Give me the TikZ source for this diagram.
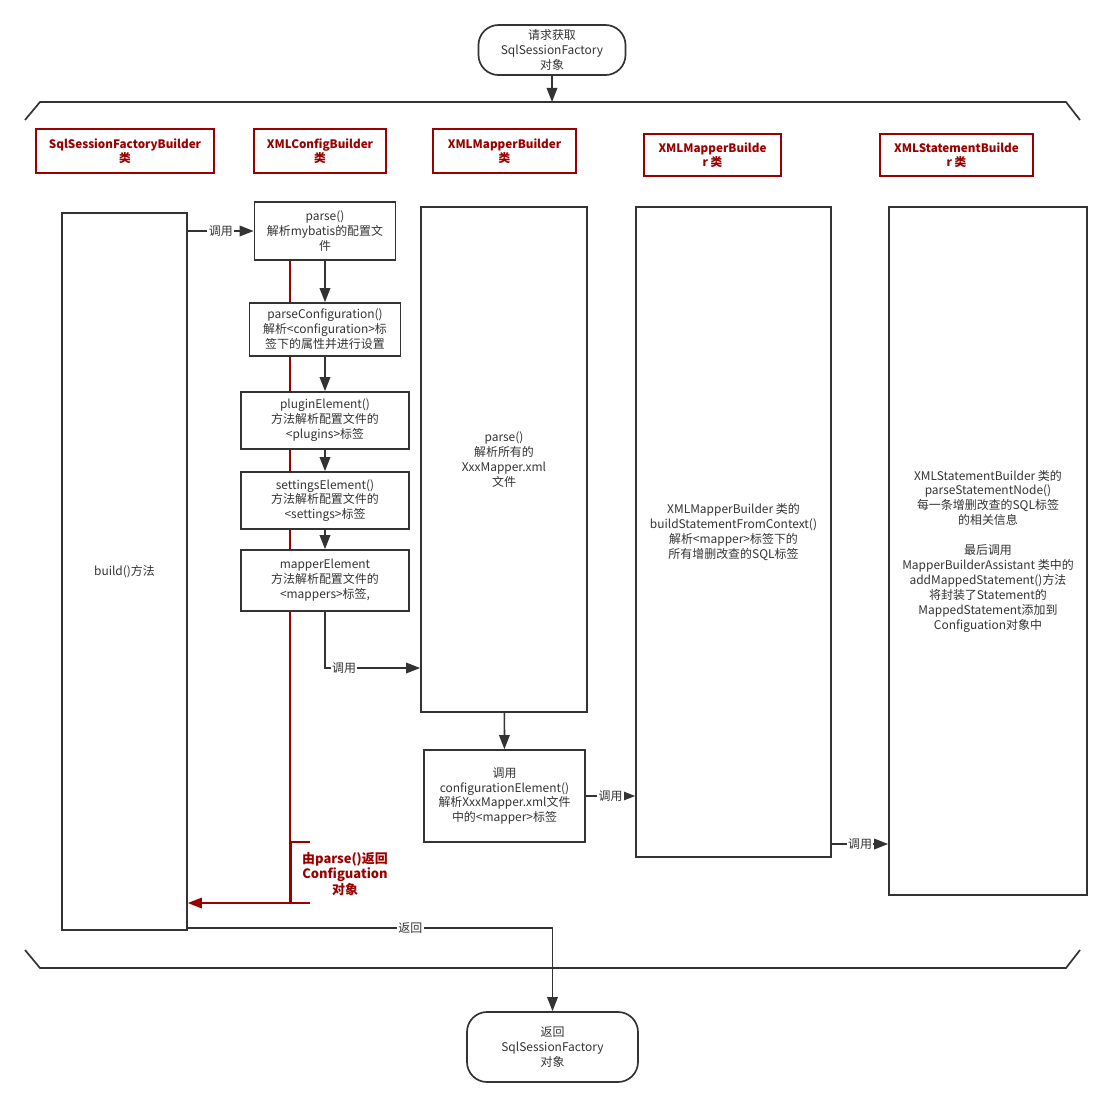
\documentclass[tikz,border=0pt]{standalone}
\usepackage{fontspec}
\setmainfont{Noto Sans CJK SC}
\usetikzlibrary{arrows.meta}
\definecolor{ink}{HTML}{333333}
\definecolor{dred}{HTML}{990000}

\begin{document}
\begin{tikzpicture}[x=0.025cm,y=-0.025cm,line width=1.2pt,color=ink,
  box/.style={draw=ink,fill=white,align=center,inner sep=2pt,font=\fontsize{8.5}{10.6}\selectfont},
  cls/.style={draw=dred,text=dred,fill=white,align=center,inner sep=1pt,font=\bfseries\fontsize{8.3}{10}\selectfont},
  sz/.style 2 args={minimum width=#1*0.025cm,minimum height=#2*0.025cm},
  term/.style={box,rounded corners=0.5cm},
  lbl/.style={fill=white,inner sep=1pt,text=ink,font=\fontsize{8.5}{10}\selectfont},
  arr/.style={-{Triangle[length=10pt,width=7.5pt]}}]
  \useasboundingbox (0,0) rectangle (1112,1107);

  % brackets round the classes
  \draw (25,120) -- (40,102) -- (1066,102) -- (1080,120);
  \draw (25,950) -- (40,968) -- (1066,968) -- (1080,950);
  \coordinate (tb) at (552,102);
  \coordinate (rc) at (290,903);
  \coordinate (c668) at (400,668);
  \coordinate (c844) at (860,844);
  \coordinate (c928) at (400,928);

  % Configuation returned by parse()
  \node[box,sz={141}{58}] (parse) at (325,231) {parse()\\解析mybatis的配置文\\件};
  \node[box,sz={125}{717}] (build) at (124.5,571.5) {build()方法};
  \draw[dred,arr] (parse.south -| rc) |- (build.east |- rc);
  \draw[dred] (310,842) -| (291,903) -- (310,903);
  \node[cls,draw=none,fill=none,font=\bfseries\fontsize{9.2}{10.8}\selectfont] (ret) at (345,874) {由parse()返回\\Configuation\\对象};

  \node[term,sz={147}{50}] (top) at (552,50) {请求获取\\SqlSessionFactory\\对象};
  \node[term,sz={171}{70}] (bot) at (552.5,1047) {返回\\SqlSessionFactory\\对象};

  \node[cls,sz={178}{44}] (h1) at (125,151) {SqlSessionFactoryBuilder\\类};
  \node[cls,sz={132}{44}] (h2) at (320,151) {XMLConfigBuilder\\类};
  \node[cls,sz={143}{44}] (h3) at (504.5,151) {XMLMapperBuilder\\类};
  \node[cls,sz={137}{42}] (h4) at (712.5,155) {XMLMapperBuilde\\r 类};
  \node[cls,sz={153}{42}] (h5) at (956.5,155) {XMLStatementBuilde\\r 类};

  \node[box,sz={151}{53}] (pconf) at (325,329.5) {parseConfiguration()\\解析<configuration>标\\签下的属性并进行设置};
  \node[box,sz={168}{57}] (plug) at (325,420.5) {pluginElement()\\方法解析配置文件的\\<plugins>标签};
  \node[box,sz={168}{57}] (sett) at (325,500.5) {settingsElement()\\方法解析配置文件的\\<settings>标签};
  \node[box,sz={168}{61}] (mapel) at (325,580.5) {mapperElement\\方法解析配置文件的\\<mappers>标签,};
  \node[box,sz={166}{505}] (mparse) at (504,459.5) {parse()\\解析所有的\\XxxMapper.xml\\文件};
  \node[box,sz={161}{92}] (cfgel) at (504.5,796) {调用\\configurationElement()\\解析XxxMapper.xml文件\\中的<mapper>标签};
  \node[box,sz={195}{650}] (mbuild) at (733.5,532) {XMLMapperBuilder 类的\\buildStatementFromContext()\\解析<mapper>标签下的\\所有增删改查的SQL标签};
  \node[box,sz={198}{688}] (stmt) at (988,551) {XMLStatementBuilder 类的\\parseStatementNode()\\每一条增删改查的SQL标签\\的相关信息\\[10.6pt]最后调用\\MapperBuilderAssistant 类中的\\addMappedStatement()方法\\将封装了Statement的\\MappedStatement添加到\\Configuation对象中};

  % calls
  \draw[arr] (top) -- (tb);
  \draw[arr] (build.east |- parse.west) -- node[lbl]{调用} (parse.west);
  \draw[arr] (parse) -- (pconf);
  \draw[arr] (pconf) -- (plug);
  \draw[arr] (plug) -- (sett);
  \draw[arr] (sett) -- (mapel);
  \draw[arr] (mapel.south) |- node[lbl,pos=0.6]{调用} (c668 -| mparse.west);
  \draw[arr] (mparse) -- (cfgel);
  \draw[arr] (cfgel.east) -- node[lbl]{调用} (cfgel.east -| mbuild.west);
  \draw[arr] (c844 -| mbuild.east) -- node[lbl]{调用} (c844 -| stmt.west);
  \draw[arr] (c928 -| build.east) -| node[lbl,pos=0.305]{返回} (bot.north);
\end{tikzpicture}
\end{document}
